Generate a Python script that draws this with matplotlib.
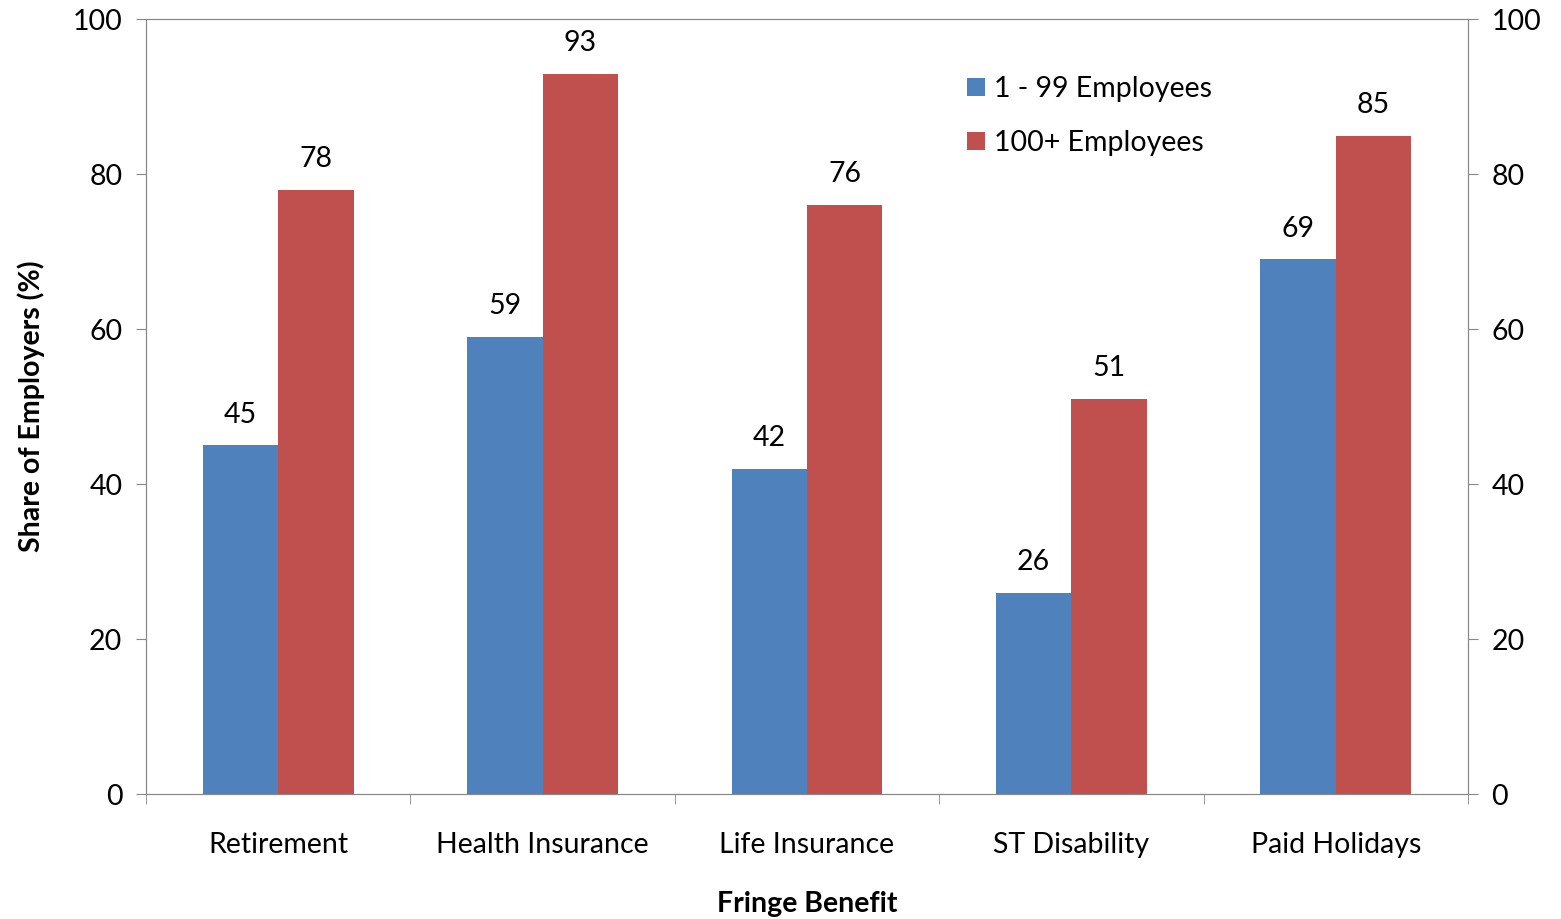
import matplotlib.pyplot as plt
import numpy as np

plt.rcParams['font.family'] = ['Lato', 'DejaVu Sans']

# Share of employers offering each benefit, by firm size
benefits = ['Retirement', 'Health Insurance', 'Life Insurance', 'ST Disability', 'Paid Holidays']
small_firms = [45, 59, 42, 26, 69]
large_firms = [78, 93, 76, 51, 85]

blue = '#4f81bd'
red = '#c0504d'
fs = 20.5

fig = plt.figure(figsize=(15.61, 9.19), dpi=100)
ax = fig.add_axes([0.0935, 0.136, 0.8469, 0.843])

x = np.arange(len(benefits))
w = 0.285
b1 = ax.bar(x - w / 2, small_firms, w, color=blue, label='1 - 99 Employees')
b2 = ax.bar(x + w / 2, large_firms, w, color=red, label='100+ Employees')

for bars, vals in ((b1, small_firms), (b2, large_firms)):
    for bar, v in zip(bars, vals):
        ax.text(bar.get_x() + bar.get_width() / 2, v + 2.3, str(v),
                ha='center', va='bottom', fontsize=fs)

ax.set_xlim(-0.5, len(benefits) - 0.5)
ax.set_ylim(0, 100)
ax.set_yticks(range(0, 101, 20))
ax.set_xticks(x)
ax.set_xticklabels(benefits, fontsize=fs)
ax.tick_params(axis='x', length=0, pad=27)
ax.set_xticks(np.arange(-0.5, len(benefits), 1), minor=True)
ax.tick_params(axis='x', which='minor', length=7, direction='out', color='#888888')
ax.tick_params(axis='y', labelsize=fs, length=7, direction='out', color='#888888', pad=10)

for s in ax.spines.values():
    s.set_color('#888888')

ax2 = ax.twinx()
ax2.set_ylim(0, 100)
ax2.set_yticks(range(0, 101, 20))
ax2.tick_params(axis='y', labelsize=fs, length=7, direction='out', color='#888888', pad=10)
for s in ax2.spines.values():
    s.set_color('#888888')

ax.set_xlabel('Fringe Benefit', fontsize=fs, fontweight='bold', labelpad=24)
ax.set_ylabel('Share of Employers (%)', fontsize=fs, fontweight='bold', labelpad=20)

ax.legend(loc='upper left', bbox_to_anchor=(0.602, 0.96), frameon=False, fontsize=fs,
          handlelength=0.6, handleheight=0.6, handletextpad=0.35, labelspacing=1.0)

fig.savefig('out.png', dpi=100)
